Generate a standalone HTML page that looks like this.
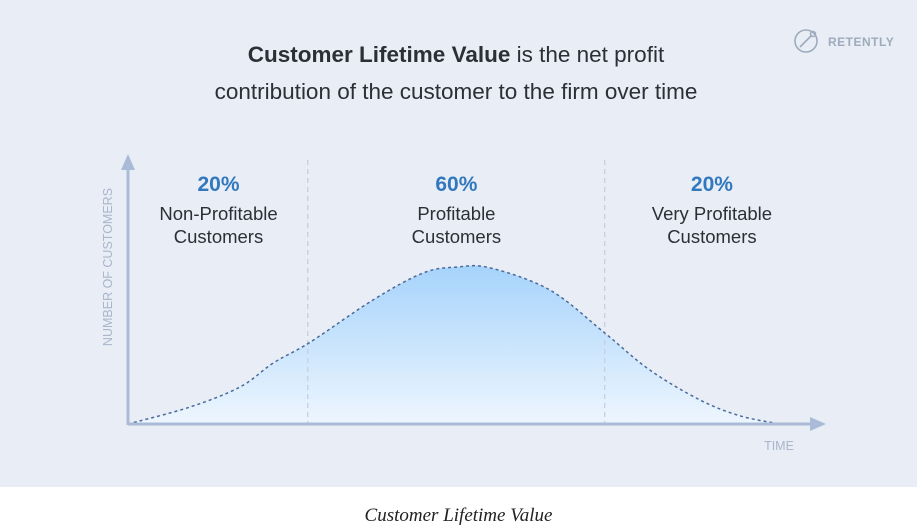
<!DOCTYPE html>
<html><head><meta charset="utf-8">
<style>
html,body{margin:0;padding:0;background:#fff;width:917px;height:532px;overflow:hidden}
body{font-family:"Liberation Sans",sans-serif}
#panel{position:absolute;left:0;top:0;width:917px;height:487px;background:#e9edf5}
.caption{position:absolute;left:0;top:505px;width:917px;text-align:center;font-family:"Liberation Serif",serif;font-style:italic;font-size:19px;color:#222}
</style></head><body>
<div id="panel">
<svg id="chart" width="917" height="487">
<defs>
<linearGradient id="fillg" x1="0" y1="0" x2="0" y2="1">
<stop offset="0" stop-color="#a6d3fb"/><stop offset="1" stop-color="#eef6fe"/>
</linearGradient>
</defs>
<text x="456" y="62" text-anchor="middle" font-size="22.5" fill="#2b2f36"><tspan font-weight="bold">Customer Lifetime Value</tspan> is the net profit</text>
<text x="456" y="99" text-anchor="middle" font-size="22.5" fill="#2b2f36">contribution of the customer to the firm over time</text>
<g>
<circle cx="806" cy="41" r="11" fill="none" stroke="#9eabbd" stroke-width="1.6"/>
<path d="M800 47 L807 40 L812 35" stroke="#9eabbd" stroke-width="1.6" fill="none"/>
<circle cx="813" cy="34" r="2.5" fill="none" stroke="#9eabbd" stroke-width="1.5"/>
<text x="828" y="46" font-size="12" font-weight="bold" fill="#9eabbd" letter-spacing="0.5">RETENTLY</text>
</g>
<g id="plot"></g>
</svg>
</div>
<div class="caption">Customer Lifetime Value</div>
<script>
const timeValues=[0,7,12.7,16.5,20.7,27.8,33.5,37.3,41.1,47.9,54.1,59.2,64.9,69.5,74];
const customerCounts=[0,6.3,13.8,22.8,30.6,46.3,56.4,58.6,58.3,50,34,20.2,9,3,0];
const segmentBounds=[20.4,54.1];
const segmentPercents=["20%","60%","20%"];
const segmentLabels=[["Non-Profitable","Customers"],["Profitable","Customers"],["Very Profitable","Customers"]];
const segmentCenters=[10.5,37.5,66.5];

const NS="http://www.w3.org/2000/svg";
const x0=128,xEnd=780,tEnd=74,y0=424,yTop=266,vTop=59;
const xScale=t=>x0+(t/tEnd)*(xEnd-x0);
const yScale=v=>y0-(v/vTop)*(y0-yTop);
const g=document.getElementById('plot');
function mk(tag,attrs){const e=document.createElementNS(NS,tag);for(const k in attrs)e.setAttribute(k,attrs[k]);g.appendChild(e);return e;}

const pts=timeValues.map((t,i)=>[xScale(t),yScale(customerCounts[i])]);
function smooth(p){let d=`M${p[0][0]},${p[0][1]}`;for(let i=0;i<p.length-1;i++){const a=p[i-1]||p[i],b=p[i],c=p[i+1],e=p[i+2]||c;
const c1=[b[0]+(c[0]-a[0])/6,b[1]+(c[1]-a[1])/6],c2=[c[0]-(e[0]-b[0])/6,c[1]-(e[1]-b[1])/6];
d+=` C${c1[0]},${c1[1]} ${c2[0]},${c2[1]} ${c[0]},${c[1]}`;}return d;}
const lineD=smooth(pts);
const area=mk('path',{d:lineD+` L${xScale(timeValues[timeValues.length-1])},${y0} L${xScale(0)},${y0} Z`,fill:'url(#fillg)'});



segmentBounds.forEach((b,i)=>{
const l=mk('line',{x1:xScale(b),x2:xScale(b),y1:160,y2:y0,stroke:'#c6cfdf','stroke-width':1.3,'stroke-dasharray':'5,4'});


});

const line=mk('path',{d:lineD,fill:'none',stroke:'#4a6a9a','stroke-width':1.5,'stroke-dasharray':'3,3'});



const ya=mk('line',{x1:x0,x2:x0,y1:168,y2:y0+1,stroke:'#aabbd8','stroke-width':3});


const yar=mk('path',{d:`M${x0-7},170 L${x0},154 L${x0+7},170 Z`,fill:'#aabbd8'});


const xa=mk('line',{x1:x0,x2:812,y1:y0,y2:y0,stroke:'#aabbd8','stroke-width':3});


const xar=mk('path',{d:`M810,${y0-7} L826,${y0} L810,${y0+7} Z`,fill:'#aabbd8'});



const yt=mk('text',{x:0,y:0,transform:'translate(112,267) rotate(-90)','text-anchor':'middle','font-size':12.5,fill:'#a9b6cc'});
yt.textContent='NUMBER OF CUSTOMERS';


const xt=mk('text',{x:779,y:450,'text-anchor':'middle','font-size':12.5,fill:'#a9b6cc'});
xt.textContent='TIME';



segmentPercents.forEach((p,i)=>{
const cx=xScale(segmentCenters[i])-2;
const t=mk('text',{x:cx,y:191,'text-anchor':'middle','font-size':21,'font-weight':'bold',fill:'#3278be'});
t.textContent=p;


segmentLabels[i].forEach((s,j)=>{
const l=mk('text',{x:cx,y:220+j*23,'text-anchor':'middle','font-size':18.5,fill:'#2b2f36'});
l.textContent=s;


});
});
</script>
</body></html>
